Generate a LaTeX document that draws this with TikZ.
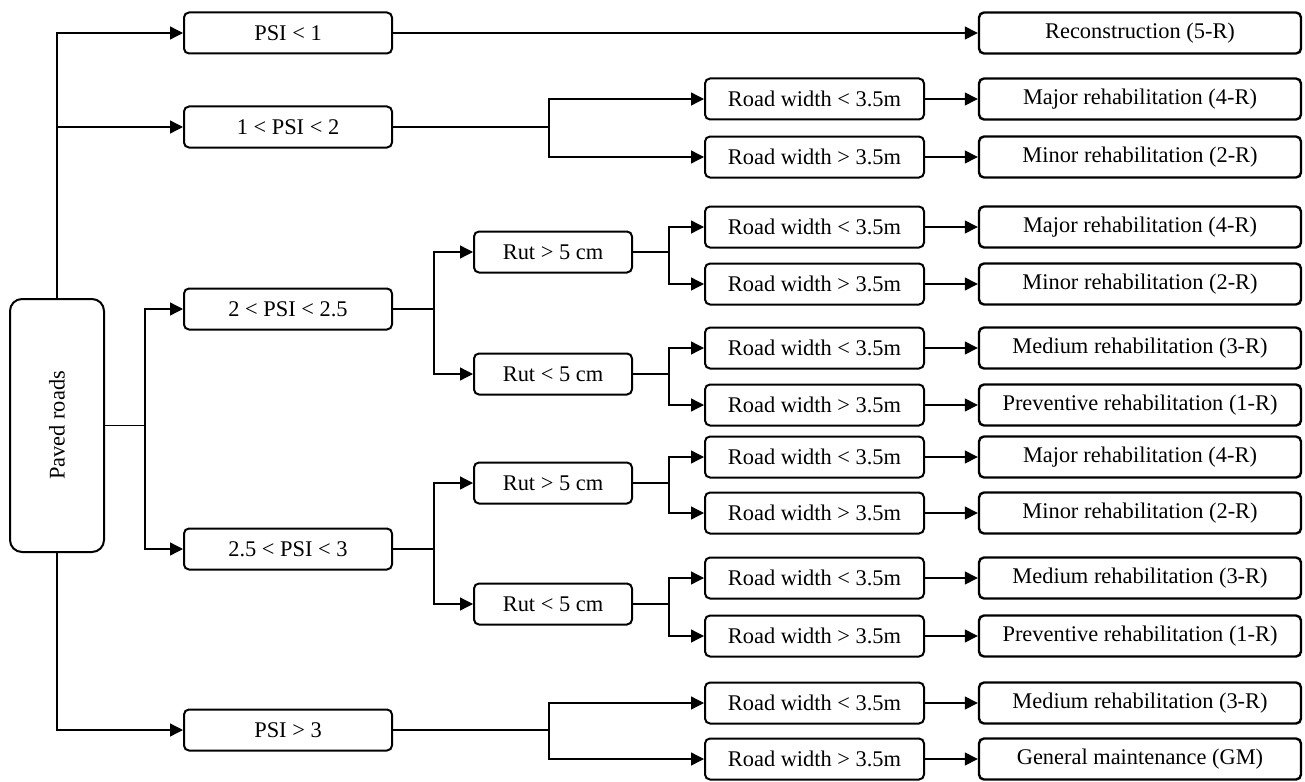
\documentclass[tikz,border=0pt]{standalone}
\usepackage{fontspec}
\setmainfont{Liberation Serif}
\usetikzlibrary{arrows.meta}

\begin{document}
\begin{tikzpicture}[x=0.5pt, y=-0.5pt, >={Triangle[length=6.5pt,width=6.5pt]}]

% --- Styles ---
\tikzset{
    box/.style={draw=black, line width=1pt, rounded corners=2.5pt,
        inner sep=0pt, font=\fontsize{11.2}{13}\selectfont, minimum height=20.5pt},
    psibox/.style={box, minimum width=104pt},
    rutbox/.style={box, minimum width=79pt},
    widthbox/.style={box, minimum width=109.5pt},
    resultbox/.style={box, line width=1.2pt, minimum width=161pt},
    rootbox/.style={box, rounded corners=6pt, rotate=90,
        minimum width=126.5pt, minimum height=47pt},
    line/.style={line width=0.65pt, draw=black},
    arrow/.style={->, line width=0.65pt, draw=black}
}

\useasboundingbox (0,0) rectangle (1305,781);

% --- Root ---
\node[rootbox] (paved) at (57,425.5) {Paved roads};

% --- PSI classes ---
\node[psibox] (psi1)   at (288,33)  {PSI < 1};
\node[psibox] (psi12)  at (288,127) {1 < PSI < 2};
\node[psibox] (psi225) at (288,309) {2 < PSI < 2.5};
\node[psibox] (psi253) at (288,549) {2.5 < PSI < 3};
\node[psibox] (psi3)   at (288,730) {PSI > 3};

% --- Rut depth ---
\node[rutbox] (rutA1) at (553,252) {Rut > 5 cm};
\node[rutbox] (rutA2) at (553,374) {Rut < 5 cm};
\node[rutbox] (rutB1) at (553,483) {Rut > 5 cm};
\node[rutbox] (rutB2) at (553,604) {Rut < 5 cm};

% --- Road width ---
\node[widthbox] (rw1)  at (814.5,99)  {Road width < 3.5m};
\node[widthbox] (rw2)  at (814.5,157) {Road width > 3.5m};
\node[widthbox] (rw3)  at (814.5,227) {Road width < 3.5m};
\node[widthbox] (rw4)  at (814.5,284) {Road width > 3.5m};
\node[widthbox] (rw5)  at (814.5,348) {Road width < 3.5m};
\node[widthbox] (rw6)  at (814.5,405) {Road width > 3.5m};
\node[widthbox] (rw7)  at (814.5,457) {Road width < 3.5m};
\node[widthbox] (rw8)  at (814.5,513) {Road width > 3.5m};
\node[widthbox] (rw9)  at (814.5,578) {Road width < 3.5m};
\node[widthbox] (rw10) at (814.5,636) {Road width > 3.5m};
\node[widthbox] (rw11) at (814.5,703) {Road width < 3.5m};
\node[widthbox] (rw12) at (814.5,759) {Road width > 3.5m};

% --- Treatments ---
\node[resultbox] (recon) at (1140,33)  {Reconstruction (5-R)};
\node[resultbox] (res1)  at (1140,99)  {Major rehabilitation (4-R)};
\node[resultbox] (res2)  at (1140,157) {Minor rehabilitation (2-R)};
\node[resultbox] (res3)  at (1140,227) {Major rehabilitation (4-R)};
\node[resultbox] (res4)  at (1140,284) {Minor rehabilitation (2-R)};
\node[resultbox] (res5)  at (1140,348) {Medium rehabilitation (3-R)};
\node[resultbox] (res6)  at (1140,405) {Preventive rehabilitation (1-R)};
\node[resultbox] (res7)  at (1140,457) {Major rehabilitation (4-R)};
\node[resultbox] (res8)  at (1140,513) {Minor rehabilitation (2-R)};
\node[resultbox] (res9)  at (1140,578) {Medium rehabilitation (3-R)};
\node[resultbox] (res10) at (1140,636) {Preventive rehabilitation (1-R)};
\node[resultbox] (res11) at (1140,703) {Medium rehabilitation (3-R)};
\node[resultbox] (res12) at (1140,759) {General maintenance (GM)};

% --- Root to PSI classes ---
\draw[arrow] (paved.east) |- (psi1);
\draw[arrow] (paved.east) |- (psi12);
\draw[arrow] (paved.west) |- (psi3);
\draw[line] (paved.south) -- ++(40,0) coordinate (f0);
\draw[arrow] (f0) |- (psi225);
\draw[arrow] (f0) |- (psi253);

% --- PSI classes onwards ---
\draw[arrow] (psi1) -- (recon);
\draw[line] (psi12.east) -- ++(156,0) coordinate (f12);
\draw[arrow] (f12) |- (rw1);
\draw[arrow] (f12) |- (rw2);
\draw[line] (psi225.east) -- ++(41,0) coordinate (f225);
\draw[arrow] (f225) |- (rutA1);
\draw[arrow] (f225) |- (rutA2);
\draw[line] (psi253.east) -- ++(41,0) coordinate (f253);
\draw[arrow] (f253) |- (rutB1);
\draw[arrow] (f253) |- (rutB2);
\draw[line] (psi3.east) -- ++(156,0) coordinate (f3);
\draw[arrow] (f3) |- (rw11);
\draw[arrow] (f3) |- (rw12);

% --- Rut depth to road width ---
\draw[line] (rutA1.east) -- ++(36,0) coordinate (fA1);
\draw[arrow] (fA1) |- (rw3);
\draw[arrow] (fA1) |- (rw4);
\draw[line] (rutA2.east) -- ++(36,0) coordinate (fA2);
\draw[arrow] (fA2) |- (rw5);
\draw[arrow] (fA2) |- (rw6);
\draw[line] (rutB1.east) -- ++(36,0) coordinate (fB1);
\draw[arrow] (fB1) |- (rw7);
\draw[arrow] (fB1) |- (rw8);
\draw[line] (rutB2.east) -- ++(36,0) coordinate (fB2);
\draw[arrow] (fB2) |- (rw9);
\draw[arrow] (fB2) |- (rw10);

% --- Road width to treatments ---
\foreach \i in {1,...,12}
    \draw[arrow] (rw\i) -- (res\i);

\end{tikzpicture}
\end{document}
